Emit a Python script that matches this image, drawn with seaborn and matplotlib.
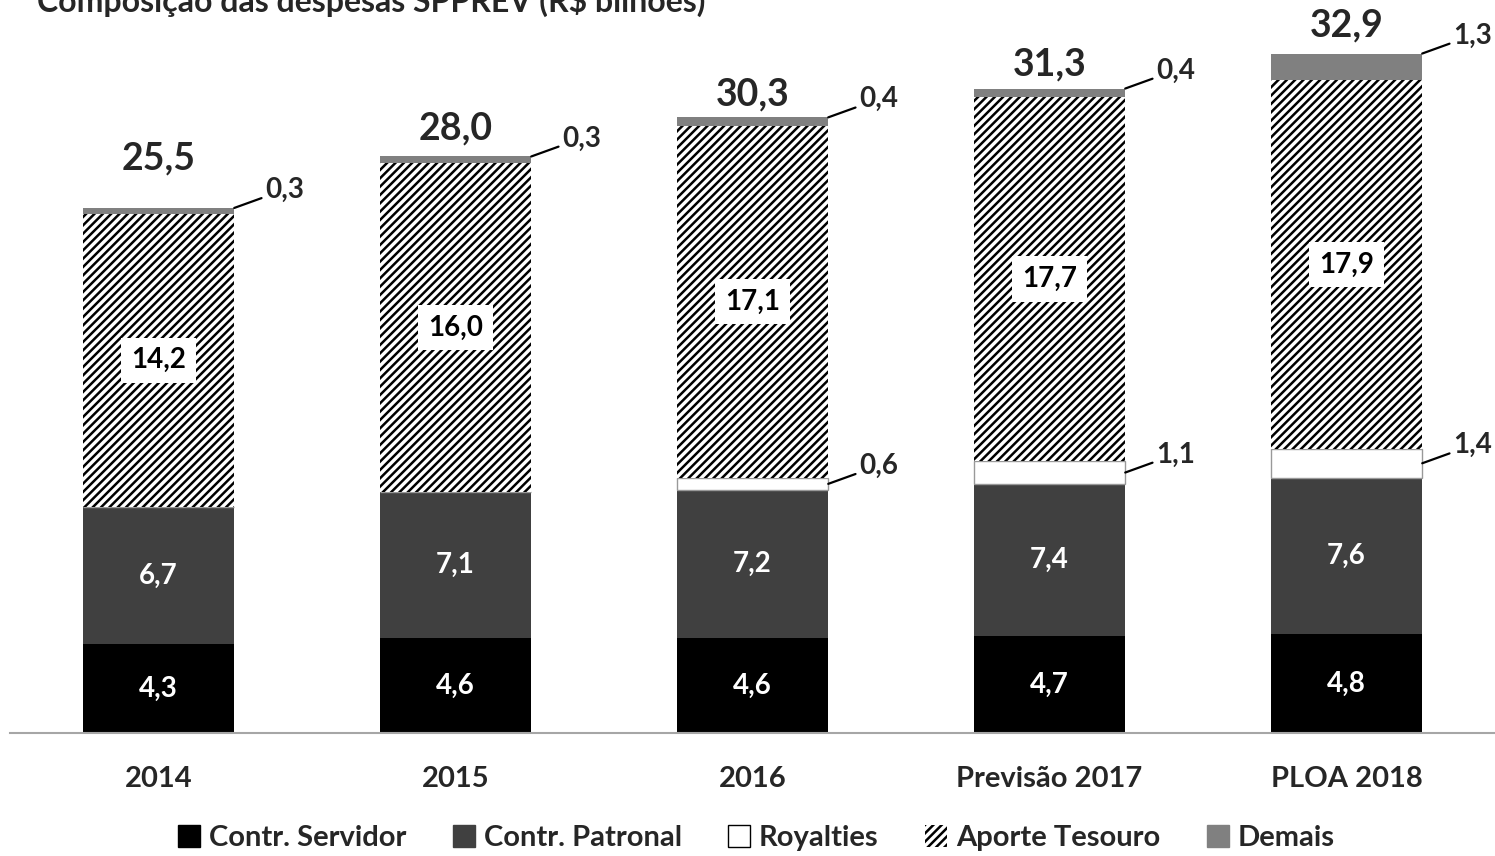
import numpy as np
import pandas as pd
import matplotlib
matplotlib.use("Agg")
import matplotlib.pyplot as plt
import seaborn as sns
from matplotlib.patches import Patch

# data (R$ bilhoes)
anos = ["2014", "2015", "2016", "Previsão 2017", "PLOA 2018"]
servidor = [4.3, 4.6, 4.6, 4.7, 4.8]
patronal = [6.7, 7.1, 7.2, 7.4, 7.6]
royalties = [0.0, 0.0, 0.6, 1.1, 1.4]
aporte = [14.2, 16.0, 17.1, 17.7, 17.9]
demais = [0.3, 0.3, 0.4, 0.4, 1.3]
totais = [25.5, 28.0, 30.3, 31.3, 32.9]

sns.set_style("white")
plt.rcParams["font.family"] = ["Lato", "DejaVu Sans"]
plt.rcParams["font.weight"] = "bold"
plt.rcParams["hatch.linewidth"] = 1.8
plt.rcParams["hatch.color"] = "black"

fig = plt.figure(figsize=(14.95, 8.56), dpi=100)
ax = fig.add_axes([0.0067, 0.1437, 0.9933, 0.8563])

layers = [
    ("Contr. Servidor", servidor, dict(color="black")),
    ("Contr. Patronal", patronal, dict(color="#404040")),
    ("Royalties", royalties, dict(color="white", edgecolor="#999999", linewidth=1)),
    ("Aporte Tesouro", aporte, dict(color="white", edgecolor="black", linewidth=0, hatch="////")),
    ("Demais", demais, dict(color="#808080")),
]

df = pd.DataFrame({"ano": anos})
bottom = np.zeros(len(anos))
bottoms = {}
for nome, vals, kw in layers:
    df[nome] = vals
    bottoms[nome] = bottom.copy()
    kw = dict(kw)
    kw.setdefault("linewidth", 0)
    sns.barplot(data=df, x="ano", y=nome, order=anos, width=0.51, bottom=bottom.copy(),
                errorbar=None, ax=ax, saturation=1, **kw)
    bottom = bottom + np.array(vals)
tops = bottom

ax.set_xlim(-0.5, 4.5)
ax.set_ylim(0, 35.6)
ax.set_xlabel("")
ax.set_ylabel("")
ax.set_yticks([])
sns.despine(ax=ax, left=True)
ax.spines["bottom"].set_color("#a6a6a6")
ax.spines["bottom"].set_linewidth(1.5)
ax.tick_params(axis="x", length=0, pad=24, labelsize=21)
for t in ax.get_xticklabels():
    t.set_fontweight("bold")

def fmt(v):
    return f"{v:.1f}".replace(".", ",")

half = 0.51 / 2
offs_total = [38, 17, 12, 13, 17]
for i in range(len(anos)):
    # dark segments
    for nome, vals in [("Contr. Servidor", servidor), ("Contr. Patronal", patronal)]:
        ax.text(i, bottoms[nome][i] + vals[i] / 2, fmt(vals[i]), color="white",
                ha="center", va="center", fontsize=20, fontweight="bold")
    # aporte label in white box
    ax.text(i, bottoms["Aporte Tesouro"][i] + aporte[i] / 2, fmt(aporte[i]), color="black",
            ha="center", va="center", fontsize=20, fontweight="bold",
            bbox=dict(boxstyle="square,pad=0.35", fc="white", ec="none"))
    # leader labels
    if royalties[i] > 0:
        y0 = bottoms["Royalties"][i] + royalties[i] / 2
        ax.annotate(fmt(royalties[i]), xy=(i + half, y0), xytext=(22, 13),
                    textcoords="offset points", ha="left", va="center", fontsize=20,
                    fontweight="bold",
                    arrowprops=dict(arrowstyle="-", color="black", lw=1.6, shrinkA=0, shrinkB=0))
    y0 = tops[i]
    ax.annotate(fmt(demais[i]), xy=(i + half, y0), xytext=(22, 13),
                textcoords="offset points", ha="left", va="center", fontsize=20,
                fontweight="bold",
                arrowprops=dict(arrowstyle="-", color="black", lw=1.6, shrinkA=0, shrinkB=0))
    # total
    ax.annotate(fmt(totais[i]), xy=(i, tops[i]), xytext=(0, offs_total[i] * 0.72),
                textcoords="offset points", ha="center", va="baseline", fontsize=27,
                fontweight="bold")

fig.text(37 / 1495, 1 - 12 / 856, "Composição das despesas SPPREV (R$ bilhões)",
         ha="left", va="baseline", fontsize=23, fontweight="bold")

handles = [
    Patch(facecolor="black", edgecolor="black", label="Contr. Servidor"),
    Patch(facecolor="#404040", edgecolor="#404040", label="Contr. Patronal"),
    Patch(facecolor="white", edgecolor="black", label="Royalties"),
    Patch(facecolor="white", edgecolor="black", linewidth=0, hatch="////", label="Aporte Tesouro"),
    Patch(facecolor="#808080", edgecolor="#808080", label="Demais"),
]
fig.legend(handles=handles, loc="center", bbox_to_anchor=(0.506, 0.021), ncol=5,
           frameon=False, handlelength=0.75, handleheight=0.75,
           handletextpad=0.3, columnspacing=1.6, prop=dict(weight="bold", size=21))

fig.savefig("out.png", dpi=100)
